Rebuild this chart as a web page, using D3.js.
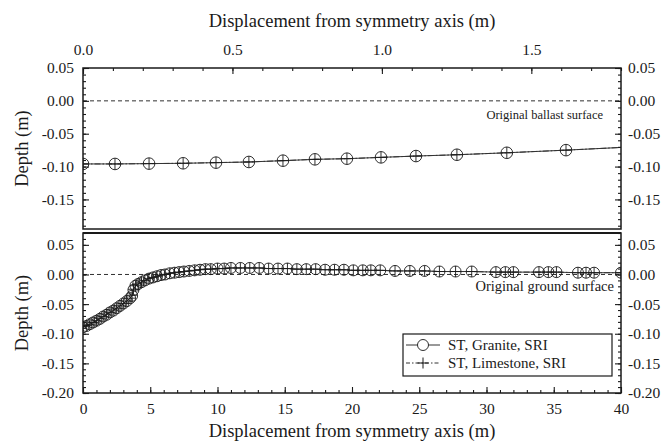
<!DOCTYPE html>
<html>
<head>
<meta charset="utf-8">
<script src="https://cdn.jsdelivr.net/npm/d3@7"></script>
</head>
<body style="margin:0;background:#fff">
<svg width="672" height="446"></svg>
<script>
// ---- data: upper panel (ballast surface, x in 0..1.8 m) ----
const topX = [0, 0.107, 0.221, 0.335, 0.445, 0.555, 0.669, 0.776, 0.883, 0.997, 1.114, 1.251, 1.418, 1.616, 1.84];
const topGraniteY = [-0.096, -0.096, -0.0955, -0.095, -0.094, -0.093, -0.091, -0.089, -0.088, -0.086, -0.084, -0.082, -0.079, -0.075, -0.070];
const topLimestoneY = [-0.096, -0.096, -0.0955, -0.095, -0.094, -0.093, -0.091, -0.089, -0.088, -0.086, -0.084, -0.082, -0.079, -0.075, -0.070];

// ---- data: lower panel (ground surface, x in 0..40 m) ----
const botX = [0, 0.25, 0.5, 0.75, 1.0, 1.25, 1.5, 1.75, 2.0, 2.25, 2.5, 2.75, 3.0, 3.25, 3.5, 3.65, 3.75, 3.9, 4.1, 4.35,
  4.6, 4.9, 5.2, 5.5, 5.8, 6.1, 6.45, 6.8, 7.15, 7.5, 7.9, 8.3, 8.7, 9.1, 9.5, 10.0, 10.5, 11.0, 11.7, 12.4,
  13.1, 13.8, 14.5, 15.2, 15.9, 16.6, 17.3, 18.0, 18.7, 19.4, 20.1, 20.8, 21.4, 22.1, 23.2, 24.3, 25.4, 26.5, 27.7, 28.9,
  30.7, 31.4, 32.0, 33.9, 34.6, 35.2, 36.8, 37.4, 38.0, 40];
const botGraniteY = [-0.089, -0.087, -0.084, -0.081, -0.078, -0.075, -0.071, -0.068, -0.064, -0.061, -0.057, -0.053, -0.049, -0.045, -0.040, -0.036, -0.026, -0.019, -0.016, -0.013,
  -0.010, -0.007, -0.005, -0.003, -0.001, 0.000, 0.002, 0.003, 0.004, 0.005, 0.006, 0.007, 0.008, 0.009, 0.009, 0.010, 0.010, 0.011, 0.011, 0.011,
  0.011, 0.010, 0.010, 0.010, 0.009, 0.009, 0.009, 0.008, 0.008, 0.008, 0.007, 0.007, 0.007, 0.007, 0.006, 0.006, 0.006, 0.005, 0.005, 0.005,
  0.004, 0.004, 0.004, 0.004, 0.004, 0.004, 0.003, 0.003, 0.003, 0.003];
const botLimestoneY = [-0.088, -0.086, -0.084, -0.081, -0.078, -0.074, -0.071, -0.067, -0.064, -0.060, -0.057, -0.053, -0.049, -0.045, -0.040, -0.035, -0.025, -0.019, -0.016, -0.013,
  -0.010, -0.007, -0.005, -0.003, -0.001, 0.000, 0.002, 0.003, 0.004, 0.005, 0.006, 0.007, 0.008, 0.009, 0.009, 0.010, 0.010, 0.011, 0.011, 0.011,
  0.011, 0.010, 0.010, 0.010, 0.009, 0.009, 0.009, 0.008, 0.008, 0.008, 0.007, 0.007, 0.007, 0.007, 0.006, 0.006, 0.006, 0.005, 0.005, 0.005,
  0.004, 0.004, 0.004, 0.004, 0.004, 0.004, 0.003, 0.003, 0.003, 0.003];

const legendLabels = ["ST, Granite, SRI", "ST, Limestone, SRI"];
const xTitle = "Displacement from symmetry axis (m)";
const yTitle = "Depth (m)";

// ---- layout ----
const FONT = "Liberation Serif";
const svg = d3.select("svg");
const L = 83, R = 621;
const top1 = 68, bot1 = 229, top2 = 233, bot2 = 393;
const ink = "#1a1a1a";

const xTop = d3.scaleLinear().domain([0, 1.8]).range([L, R]);
const yTop = d3.scaleLinear().domain([-0.195, 0.05]).range([bot1, top1]);
const xBot = d3.scaleLinear().domain([0, 40]).range([L, R]);
const yBot = d3.scaleLinear().domain([-0.2, 0.07]).range([bot2, top2]);

const fmt = d => (d < -1e-9 ? "-" : "") + Math.abs(d).toFixed(2);

svg.append("rect").attr("width", 672).attr("height", 446).attr("fill", "#fff");

function clip(id, y0, y1) {
  svg.append("clipPath").attr("id", id)
    .append("rect").attr("x", L).attr("y", y0).attr("width", R - L).attr("height", y1 - y0);
}
clip("c1", top1, bot1);
clip("c2", top2, bot2);

function styleAxis(g) {
  g.attr("font-family", FONT).attr("font-size", 15.5);
  g.select(".domain").remove();
  g.selectAll("line").attr("stroke", ink).attr("stroke-width", 1.1);
  g.selectAll("text").attr("fill", ink).attr("font-family", FONT);
}

function label(x, y, txt, size, anchor) {
  return svg.append("text").attr("x", x).attr("y", y).attr("text-anchor", anchor || "start")
    .attr("font-family", FONT).attr("font-size", size).attr("fill", ink).text(txt);
}

function yAxes(y, majors, minors) {
  svg.append("g").attr("transform", `translate(${L},0)`)
    .call(d3.axisLeft(y).tickValues(minors).tickSize(-3).tickFormat(""))
    .call(styleAxis);
  svg.append("g").attr("transform", `translate(${L},0)`)
    .call(d3.axisLeft(y).tickValues(majors).tickSize(-6).tickPadding(9).tickFormat(fmt))
    .call(styleAxis);
  svg.append("g").attr("transform", `translate(${R},0)`)
    .call(d3.axisRight(y).tickValues(minors).tickSize(-3).tickFormat(""))
    .call(styleAxis);
  svg.append("g").attr("transform", `translate(${R},0)`)
    .call(d3.axisRight(y).tickValues(majors).tickSize(-6).tickPadding(7).tickFormat(fmt))
    .call(styleAxis);
}

function panel(clipId, x, y, xs, gy, ly, r) {
  const g = svg.append("g").attr("clip-path", `url(#${clipId})`);
  // zero reference line
  g.append("line")
    .attr("x1", L).attr("x2", R).attr("y1", y(0)).attr("y2", y(0))
    .attr("stroke", ink).attr("stroke-width", 0.9).attr("stroke-dasharray", "4,3");

  const gData = xs.map((d, i) => [d, gy[i]]);
  const lData = xs.map((d, i) => [d, ly[i]]);
  const line = d3.line().x(d => x(d[0])).y(d => y(d[1]));

  g.append("path").datum(gData).attr("d", line)
    .attr("fill", "none").attr("stroke", "#333").attr("stroke-width", 1);
  g.append("path").datum(lData).attr("d", line)
    .attr("fill", "none").attr("stroke", "#333").attr("stroke-width", 1)
    .attr("stroke-dasharray", "6,2,1.5,2");

  g.selectAll(".pt").data(gData).enter().append("circle")
    .attr("cx", d => x(d[0])).attr("cy", d => y(d[1])).attr("r", r)
    .attr("fill", "none").attr("stroke", ink).attr("stroke-width", 0.9);
  g.selectAll(".pl").data(lData).enter().append("path")
    .attr("d", d => {
      const px = x(d[0]), py = y(d[1]);
      return `M${px - r},${py}H${px + r}M${px},${py - r}V${py + r}`;
    })
    .attr("fill", "none").attr("stroke", ink).attr("stroke-width", 0.9);
}

// ---- upper panel ----
panel("c1", xTop, yTop, topX, topGraniteY, topLimestoneY, 5.8);
yAxes(yTop, [0.05, 0, -0.05, -0.10, -0.15], d3.range(-19, 6).map(i => i / 100));

svg.append("g").attr("transform", `translate(0,${top1})`)
  .call(d3.axisTop(xTop).tickValues(d3.range(0, 19).map(i => i / 10)).tickSize(-3).tickFormat(""))
  .call(styleAxis);
svg.append("g").attr("transform", `translate(0,${top1})`)
  .call(d3.axisTop(xTop).tickValues([0, 0.5, 1.0, 1.5]).tickSize(-6).tickPadding(13).tickFormat(d3.format(".1f")))
  .call(styleAxis);

label(603, 119, "Original ballast surface", 12.5, "end");

// ---- lower panel ----
panel("c2", xBot, yBot, botX, botGraniteY, botLimestoneY, 5.5);
yAxes(yBot, [0.05, 0, -0.05, -0.10, -0.15, -0.20], d3.range(-20, 8).map(i => i / 100));

svg.append("g").attr("transform", `translate(0,${bot2})`)
  .call(d3.axisBottom(xBot).tickValues(d3.range(0, 41)).tickSize(-3).tickFormat(""))
  .call(styleAxis);
svg.append("g").attr("transform", `translate(0,${bot2})`)
  .call(d3.axisBottom(xBot).tickValues(d3.range(0, 41, 5)).tickSize(-6).tickPadding(10).tickFormat(d3.format("d")))
  .call(styleAxis);

label(614, 291, "Original ground surface", 14.5, "end");

// ---- frames ----
svg.append("rect").attr("x", L).attr("y", top1).attr("width", R - L).attr("height", bot1 - top1)
  .attr("fill", "none").attr("stroke", ink).attr("stroke-width", 1.5);
svg.append("rect").attr("x", L).attr("y", top2).attr("width", R - L).attr("height", bot2 - top2)
  .attr("fill", "none").attr("stroke", ink).attr("stroke-width", 1.5);
svg.append("line").attr("x1", L).attr("x2", R).attr("y1", top2).attr("y2", top2)
  .attr("stroke", ink).attr("stroke-width", 2);

// ---- titles ----
label((L + R) / 2, 27, xTitle, 18.5, "middle");
label((L + R) / 2, 437, xTitle, 18.5, "middle");
[(top1 + bot1) / 2, (top2 + bot2) / 2].forEach(cy => {
  label(0, 0, yTitle, 18.5, "middle").attr("transform", `translate(28,${cy}) rotate(-90)`);
});

// ---- legend ----
const lg = svg.append("g");
lg.append("rect").attr("x", 403).attr("y", 334).attr("width", 209).attr("height", 42)
  .attr("fill", "#fff").attr("stroke", ink).attr("stroke-width", 1.2);
legendLabels.forEach((lab, i) => {
  const cy = 345 + i * 18;
  lg.append("line").attr("x1", 406).attr("x2", 440).attr("y1", cy).attr("y2", cy)
    .attr("stroke", "#333").attr("stroke-width", 1)
    .attr("stroke-dasharray", i === 0 ? null : "4,2,1.5,2");
  if (i === 0) {
    lg.append("circle").attr("cx", 423).attr("cy", cy).attr("r", 5.5)
      .attr("fill", "#fff").attr("stroke", ink).attr("stroke-width", 0.9);
  } else {
    lg.append("path").attr("d", `M417.5,${cy}H428.5M423,${cy - 5.5}V${cy + 5.5}`)
      .attr("stroke", ink).attr("stroke-width", 1);
  }
  lg.append("text").attr("x", 448).attr("y", cy + 5).attr("font-family", FONT).attr("font-size", 15)
    .attr("fill", ink).text(lab);
});
</script>
</body>
</html>
